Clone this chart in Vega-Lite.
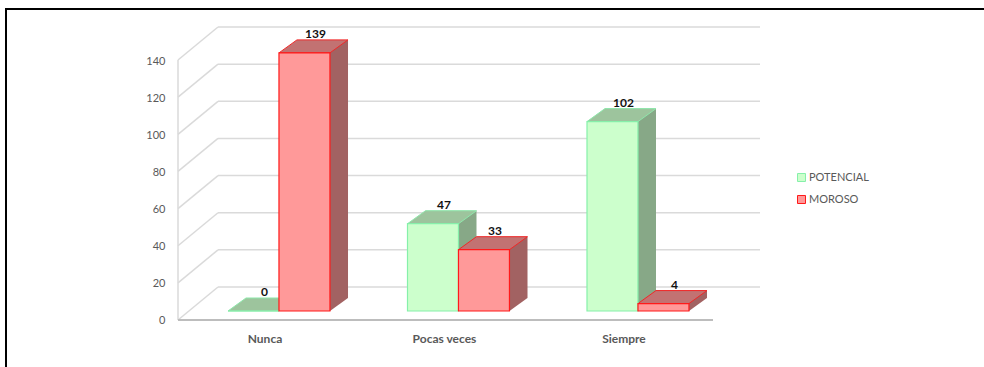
{
  "$schema": "https://vega.github.io/schema/vega-lite/v6.json",
  "width": 990,
  "height": 370,
  "autosize": {"type": "none"},
  "padding": {"left": 6, "top": 9, "right": -12, "bottom": -12},
  "background": "white",
  "config": {"view": {"stroke": "#000000", "strokeWidth": 2}, "font": "Lato"},
  "datasets": {
    "bars": [
      {"cat": "Nunca", "series": "POTENCIAL", "value": 0},
      {"cat": "Nunca", "series": "MOROSO", "value": 139},
      {"cat": "Pocas veces", "series": "POTENCIAL", "value": 47},
      {"cat": "Pocas veces", "series": "MOROSO", "value": 33},
      {"cat": "Siempre", "series": "POTENCIAL", "value": 102},
      {"cat": "Siempre", "series": "MOROSO", "value": 4}
    ],
    "ticks": [{"v": 0}, {"v": 20}, {"v": 40}, {"v": 60}, {"v": 80}, {"v": 100}, {"v": 120}, {"v": 140}],
    "edge": [{"edge": "front"}]
  },
  "layer": [
    {
      "data": {"name": "ticks"},
      "mark": {"type": "rule", "color": "#DADADA", "strokeWidth": 1.5, "yOffset": -24},
      "encoding": {
        "x": {"datum": "Nunca", "type": "nominal", "bandPosition": -0.0981,
              "scale": {"domain": ["Nunca", "Pocas veces", "Siempre"], "range": [222, 682.95], "paddingInner": 0.432, "paddingOuter": 0, "round": false}},
        "x2": {"datum": "Siempre", "bandPosition": 1.697},
        "y": {"field": "v", "type": "quantitative", "scale": {"domain": [-36.62, 162.63], "nice": false, "zero": false}}
      }
    },
    {
      "data": {"name": "ticks"},
      "mark": {"type": "rule", "color": "#DADADA", "strokeWidth": 1.5, "yOffset": 9, "y2Offset": -24},
      "encoding": {
        "x": {"datum": "Nunca", "type": "nominal", "bandPosition": -0.4904},
        "x2": {"datum": "Nunca", "bandPosition": -0.0981},
        "y": {"field": "v", "type": "quantitative"},
        "y2": {"field": "v"}
      }
    },
    {
      "data": {"name": "edge"},
      "mark": {"type": "rule", "color": "#DADADA", "strokeWidth": 1.5, "yOffset": 9, "y2Offset": 9},
      "encoding": {
        "x": {"datum": "Nunca", "type": "nominal", "bandPosition": -0.4904},
        "y": {"datum": 0, "type": "quantitative"},
        "y2": {"datum": 140}
      }
    },
    {
      "data": {"name": "edge"},
      "mark": {"type": "rule", "color": "#BDBDBD", "strokeWidth": 2, "yOffset": 9},
      "encoding": {
        "x": {"datum": "Nunca", "type": "nominal", "bandPosition": -0.4904},
        "x2": {"datum": "Siempre", "bandPosition": 1.236},
        "y": {"datum": 0, "type": "quantitative"}
      }
    },
    {
      "data": {"name": "bars"},
      "transform": [{"filter": "datum.series === 'POTENCIAL'"}],
      "mark": {"type": "rule", "strokeWidth": 51, "strokeCap": "butt", "color": "#87A887", "yOffset": -13, "y2Offset": -13},
      "encoding": {
        "x": {"field": "cat", "type": "nominal", "bandPosition": 0.4267},
        "y": {"field": "value", "type": "quantitative"},
        "y2": {"datum": 0}
      }
    },
    {
      "data": {"name": "bars"},
      "transform": [{"filter": "datum.series === 'MOROSO'"}],
      "mark": {"type": "rule", "strokeWidth": 51, "strokeCap": "butt", "color": "#A26262", "yOffset": -13, "y2Offset": -13},
      "encoding": {
        "x": {"field": "cat", "type": "nominal", "bandPosition": 0.927},
        "y": {"field": "value", "type": "quantitative"},
        "y2": {"datum": 0}
      }
    },
    {
      "data": {"name": "bars"},
      "mark": {"type": "point", "shape": "M2.55,-1.3L2.55,0L4.35,-1.3Z", "size": 400, "filled": true, "opacity": 1, "strokeWidth": 0},
      "encoding": {
        "x": {"field": "cat", "type": "nominal"},
        "xOffset": {"field": "series", "type": "nominal", "scale": {"domain": ["POTENCIAL", "MOROSO"], "paddingInner": 0, "paddingOuter": 0}},
        "y": {"datum": 0, "type": "quantitative"},
        "fill": {"condition": {"test": "datum.series === 'MOROSO'", "value": "#A26262"}, "value": "#87A887"}
      }
    },
    {
      "data": {"name": "bars"},
      "mark": {"type": "point", "shape": "M-2.55,0L2.55,0L4.35,-1.3L-0.75,-1.3Z", "size": 400, "filled": true, "opacity": 1, "strokeWidth": 1},
      "encoding": {
        "x": {"field": "cat", "type": "nominal"},
        "xOffset": {"field": "series", "type": "nominal"},
        "y": {"field": "value", "type": "quantitative"},
        "fill": {"condition": {"test": "datum.series === 'MOROSO'", "value": "#C27272"}, "value": "#9DC49D"},
        "stroke": {"condition": {"test": "datum.series === 'MOROSO'", "value": "#F02828"}, "value": "#8FE8AC"}
      }
    },
    {
      "data": {"name": "bars"},
      "mark": {"type": "bar", "strokeWidth": 1.2},
      "encoding": {
        "x": {"field": "cat", "type": "nominal",
              "axis": {"orient": "bottom", "offset": -59, "domain": false, "ticks": false, "grid": false, "labelPadding": 18, "labelOffset": -14, "labelAlign": "center", "labelFont": "Lato", "labelFontSize": 12, "labelFontWeight": "bold", "labelColor": "#595959", "labelAngle": 0, "title": null}},
        "xOffset": {"field": "series", "type": "nominal"},
        "y": {"field": "value", "type": "quantitative",
              "axis": {"orient": "left", "values": [0, 20, 40, 60, 80, 100, 120, 140], "offset": -172, "domain": false, "ticks": false, "tickSize": 0, "grid": false, "labelPadding": 13, "labelOffset": 10, "labelFont": "Lato", "labelFontSize": 11, "labelColor": "#595959", "title": null}},
        "y2": {"datum": 0},
        "fill": {"field": "series", "type": "nominal",
                 "scale": {"domain": ["POTENCIAL", "MOROSO"], "range": ["#CCFFCC", "#FF9999"]},
                 "legend": {"orient": "none", "legendX": 790, "legendY": 163, "title": null, "symbolType": "square", "symbolSize": 64, "symbolStrokeWidth": 1, "labelFont": "Lato", "labelFontSize": 11, "labelColor": "#595959", "labelOffset": 2, "rowPadding": 9, "padding": 0}},
        "stroke": {"field": "series", "type": "nominal",
                   "scale": {"domain": ["POTENCIAL", "MOROSO"], "range": ["#86F0AA", "#FF1A1A"]},
                   "legend": {"orient": "none", "legendX": 790, "legendY": 163, "title": null, "symbolType": "square", "symbolSize": 64, "symbolStrokeWidth": 1, "labelFont": "Lato", "labelFontSize": 11, "labelColor": "#595959", "labelOffset": 2, "rowPadding": 9, "padding": 0}}
      }
    },
    {
      "data": {"name": "bars"},
      "mark": {"type": "text", "dx": 11, "dy": -19, "font": "Lato", "fontSize": 12, "fontWeight": "bold", "color": "#111111"},
      "encoding": {
        "x": {"field": "cat", "type": "nominal"},
        "xOffset": {"field": "series", "type": "nominal"},
        "y": {"field": "value", "type": "quantitative"},
        "text": {"field": "value", "type": "quantitative"}
      }
    }
  ]
}
